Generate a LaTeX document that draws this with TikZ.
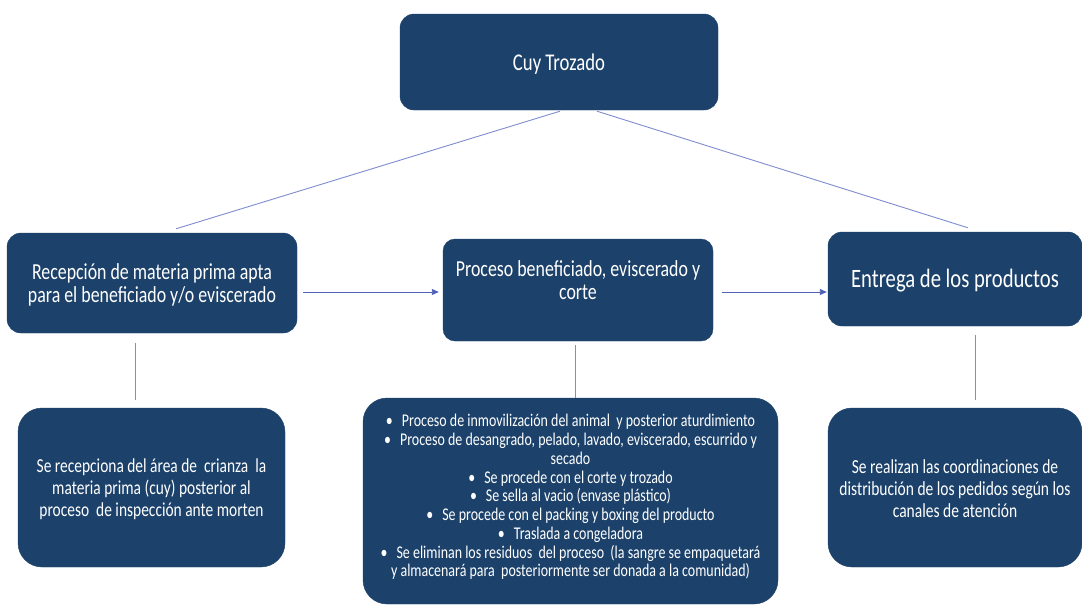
\documentclass[tikz,border=0pt]{standalone}
\usepackage{fontspec}
\setmainfont{Carlito}[FakeStretch=0.78]
\usetikzlibrary{arrows.meta,calc}
\definecolor{boxblue}{RGB}{28,66,107}
\definecolor{linkblue}{RGB}{128,140,208}
\definecolor{arrowblue}{RGB}{80,96,180}
\newcommand\bul{\textbullet\hspace{9pt}}

\begin{document}
\begin{tikzpicture}[x=1pt,y=-1pt,
  box/.style={fill=boxblue, draw=boxblue, rounded corners=#1, inner sep=0pt},
  box/.default=14pt,
  txt/.style={text=white, align=center, inner sep=0pt},
  link/.style={draw=linkblue, line width=0.9pt},
  flow/.style={draw=arrowblue, line width=0.9pt, -{Triangle[length=7pt,width=6pt]}}
]
\useasboundingbox (0,0) rectangle (1082,606);
\fill[white] (0,0) rectangle (1082,606);

% main boxes
\node[box, minimum width=318pt, minimum height=96pt] (top) at (559,62) {};
\node[box, minimum width=290pt, minimum height=100pt] (left) at (152,283) {};
\node[box=12pt, minimum width=270pt, minimum height=102pt] (mid) at (578,290) {};
\node[box, minimum width=254pt, minimum height=94pt] (right) at (955,279) {};

% detail boxes
\node[box=24pt, minimum width=267pt, minimum height=159pt] (bl) at (151.5,487.5) {};
\node[box=24pt, minimum width=415pt, minimum height=206pt] (bm) at (570.5,501) {};
\node[box=24pt, minimum width=254pt, minimum height=159pt] (br) at (955,487.5) {};

% texts
\node[txt, font=\fontsize{24}{26}\selectfont] (ttop) at (559,64) {Cuy Trozado};
\node[txt, font=\fontsize{22.9}{23.5}\selectfont] (tleft) at (152,285)
  {Recepción de materia prima apta\\para el beneficiado y/o eviscerado};
\node[txt, font=\fontsize{22.9}{23.5}\selectfont] (tmid) at (578,280)
  {Proceso beneficiado, eviscerado y\\corte};
\node[txt, font=\fontsize{26.5}{28}\selectfont] (tright) at (955,281)
  {Entrega de los productos};
\node[txt, font=\fontsize{19.8}{22}\selectfont] (tbl) at (151.5,489)
  {Se recepciona del área de\ \ crianza\ \ la\\materia prima (cuy) posterior al\\proceso\ \ de inspección ante morten};
\node[txt, font=\fontsize{17.9}{18.75}\selectfont] (tbm) at (570.5,497)
  {\bul Proceso de inmovilización del animal\ \ y posterior aturdimiento\\
   \bul Proceso de desangrado, pelado, lavado, eviscerado, escurrido y\\
   secado\\
   \bul Se procede con el corte y trozado\\
   \bul Se sella al vacio (envase plástico)\\
   \bul Se procede con el packing y boxing del producto\\
   \bul Traslada a congeladora\\
   \bul Se eliminan los residuos\ \ del proceso\ \ (la sangre se empaquetará\\
   y almacenará para\ \ posteriormente ser donada a la comunidad)};
\node[txt, font=\fontsize{19.9}{22}\selectfont] (tbr) at (955,489)
  {Se realizan las coordinaciones de\\distribución de los pedidos según los\\canales de atención};

% connectors from the title box
\draw[link] ($(top.south)+(1,1)$) -- ($(left.north)+(24,-4)$);
\draw[link] ($(mid.north)+(-3,0)$) -- ($(mid.north)+(-3,0)$ |- top.south);
\draw[link] ($(top.south)+(38,1)$) -- ($(right.north)+(13,-4)$);

% process flow
\draw[flow] ($(left.east)+(6,9)$) -- ($(mid.west)+(-4,2)$);
\draw[flow] ($(mid.east)+(9,2)$) -- ($(right.west)+(-1,13)$);

% links to detail boxes
\draw[link] ($(left.south)+(-17,10)$) -- ($(bl.north)+(-16.5,-8)$);
\draw[link] ($(mid.south)+(-3,4)$) -- ($(bm.north)+(4.5,0)$);
\draw[link] ($(right.south)+(20,9)$) -- ($(br.north)+(20,-8)$);
\end{tikzpicture}
\end{document}
